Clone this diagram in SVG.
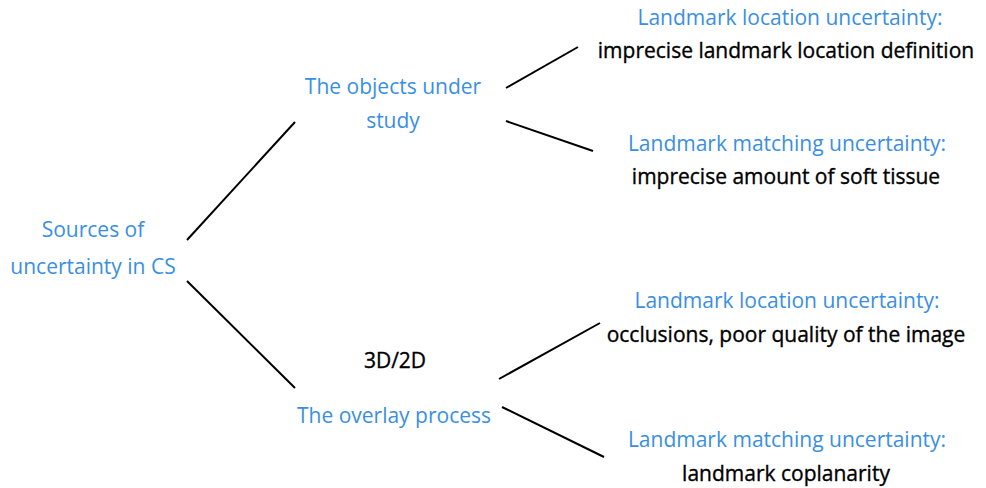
<svg xmlns="http://www.w3.org/2000/svg" width="986" height="488" viewBox="0 0 986 488">
<style>
text{font-family:"Open Sans","Liberation Sans",sans-serif;font-size:21px;text-anchor:middle}
.b{fill:#3a8fe3}
.k{fill:#000;stroke:#000;stroke-width:0.35}
.c line{stroke:#000;stroke-width:2}
</style>
<rect width="986" height="488" fill="#fff"/>
<g class="c" id="connectors">
<line x1="187" y1="240" x2="295" y2="122"/>
<line x1="187" y1="281" x2="295" y2="388"/>
<line x1="506" y1="88" x2="578" y2="47"/>
<line x1="506" y1="121" x2="593" y2="151"/>
<line x1="499" y1="379" x2="600" y2="323"/>
<line x1="502" y1="407" x2="604" y2="457"/>
</g>
<g id="root"><text class="b" x="93" y="237">Sources of</text><text class="b" x="93" y="274">uncertainty in CS</text></g>
<g id="objects"><text class="b" x="393" y="94">The objects under</text><text class="b" x="393" y="128">study</text></g>
<g id="overlay"><text class="k" x="395" y="368">3D/2D</text><text class="b" x="394" y="423">The overlay process</text></g>
<g id="leaf1"><text class="b" x="790" y="25">Landmark location uncertainty:</text><text class="k" x="786" y="58">imprecise landmark location definition</text></g>
<g id="leaf2"><text class="b" x="787" y="151">Landmark matching uncertainty:</text><text class="k" x="786" y="184">imprecise amount of soft tissue</text></g>
<g id="leaf3"><text class="b" x="787" y="308">Landmark location uncertainty:</text><text class="k" x="786" y="342">occlusions, poor quality of the image</text></g>
<g id="leaf4"><text class="b" x="787" y="447">Landmark matching uncertainty:</text><text class="k" x="786" y="481">landmark coplanarity</text></g>
</svg>
